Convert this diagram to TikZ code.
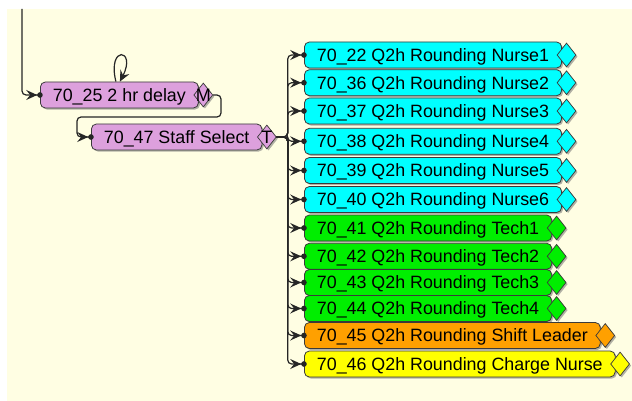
\documentclass[tikz,border=0pt]{standalone}
\usepackage{fontspec}
\setmainfont{Liberation Sans}
\usetikzlibrary{arrows.meta,shapes.geometric,shadows}

\definecolor{paper}{HTML}{FFFEE3}
\definecolor{plumbox}{HTML}{DDA0DD}
\definecolor{cyanbox}{HTML}{00FFFF}
\definecolor{greenbox}{HTML}{00EE00}
\definecolor{orangebox}{HTML}{FFA000}
\definecolor{yellowbox}{HTML}{FFFF00}
\definecolor{edge}{HTML}{3A3A3A}

\tikzset{
  shade/.style={drop shadow={shadow xshift=1.6pt, shadow yshift=-1.6pt, fill=black!55, opacity=0.55}},
  task/.style={draw=edge, line width=0.8pt, rounded corners=5pt, anchor=west,
    minimum height=26pt, inner xsep=12.5pt, inner ysep=0pt,
    text height=12.8pt, text depth=0pt, shade,
    font=\fontsize{17.85}{20}\selectfont},
  dia/.style={diamond, draw=edge, line width=0.7pt, minimum width=19pt,
    minimum height=24pt, inner sep=0pt, xshift=4.5pt, shade},
  dialabel/.style={font=\fontsize{18}{19}\selectfont, inner sep=0pt},
  conn/.style={draw=black!85, line width=1.2pt, rounded corners=4pt},
  headtip/.style={Stealth[length=11pt,width=10pt,inset=4pt]},
  tip/.style={-{Stealth[length=11pt,width=10pt,inset=4pt] Circle[length=5.5pt]}, shorten >=-2.7pt},
}

\begin{document}
\begin{tikzpicture}[x=1pt, y=-1pt]
  \useasboundingbox (0,0) rectangle (632,401);
  \fill[white] (0,0) rectangle (632,401);
  \fill[paper] (7,9) rectangle (632,401);

  % routing points
  \coordinate (src) at (22,9);
  \coordinate (mturn) at (221,117);
  \coordinate (mback) at (77,117);
  \coordinate (trunk) at (287.7,137);

  % delay and selector steps
  \node[task, fill=plumbox] (d25) at (40,95) {70\_25 2 hr delay};
  \node[dia, fill=plumbox] (mdia) at (d25.east) {};
  \node[dialabel] at (mdia) {M};

  \node[task, fill=plumbox] (d47) at (91,137) {70\_47 Staff Select};
  \node[dia, fill=plumbox] (tdia) at (d47.east) {};
  \node[dialabel] at (tdia) {T};

  % rounding tasks
  \foreach \name/\y/\col/\txt in {
      n22/55/cyanbox/{70\_22 Q2h Rounding Nurse1},
      n36/82.7/cyanbox/{70\_36 Q2h Rounding Nurse2},
      n37/111/cyanbox/{70\_37 Q2h Rounding Nurse3},
      n38/141.3/cyanbox/{70\_38 Q2h Rounding Nurse4},
      n39/170.5/cyanbox/{70\_39 Q2h Rounding Nurse5},
      n40/199.5/cyanbox/{70\_40 Q2h Rounding Nurse6},
      n41/228/greenbox/{70\_41 Q2h Rounding Tech1},
      n42/256.3/greenbox/{70\_42 Q2h Rounding Tech2},
      n43/282.5/greenbox/{70\_43 Q2h Rounding Tech3},
      n44/308.5/greenbox/{70\_44 Q2h Rounding Tech4},
      n45/335.5/orangebox/{70\_45 Q2h Rounding Shift Leader},
      n46/364/yellowbox/{70\_46 Q2h Rounding Charge Nurse}} {
    \node[task, fill=\col] (\name) at (304,\y) {\txt};
    \node[dia, fill=\col] (\name d) at (\name.east) {};
  }

  % connectors
  \draw[conn, tip] (src) |- (d25.west);
  \draw[conn, -{Stealth[length=11pt,width=10pt,inset=4pt]}]
    ([xshift=-3.5pt]d25.north) .. controls +(-9,-37) and +(17,-33) .. ([xshift=0.5pt]d25.north);
  \draw[conn, tip] (mdia.east) -| (mturn) -- (mback) |- (d47.west);
  \foreach \name in {n22,n36,n37,n38,n39,n40,n41,n42,n43,n44,n45,n46}
    \draw[conn, tip] (tdia.east) -- (trunk) |- (\name.west);
\end{tikzpicture}
\end{document}
